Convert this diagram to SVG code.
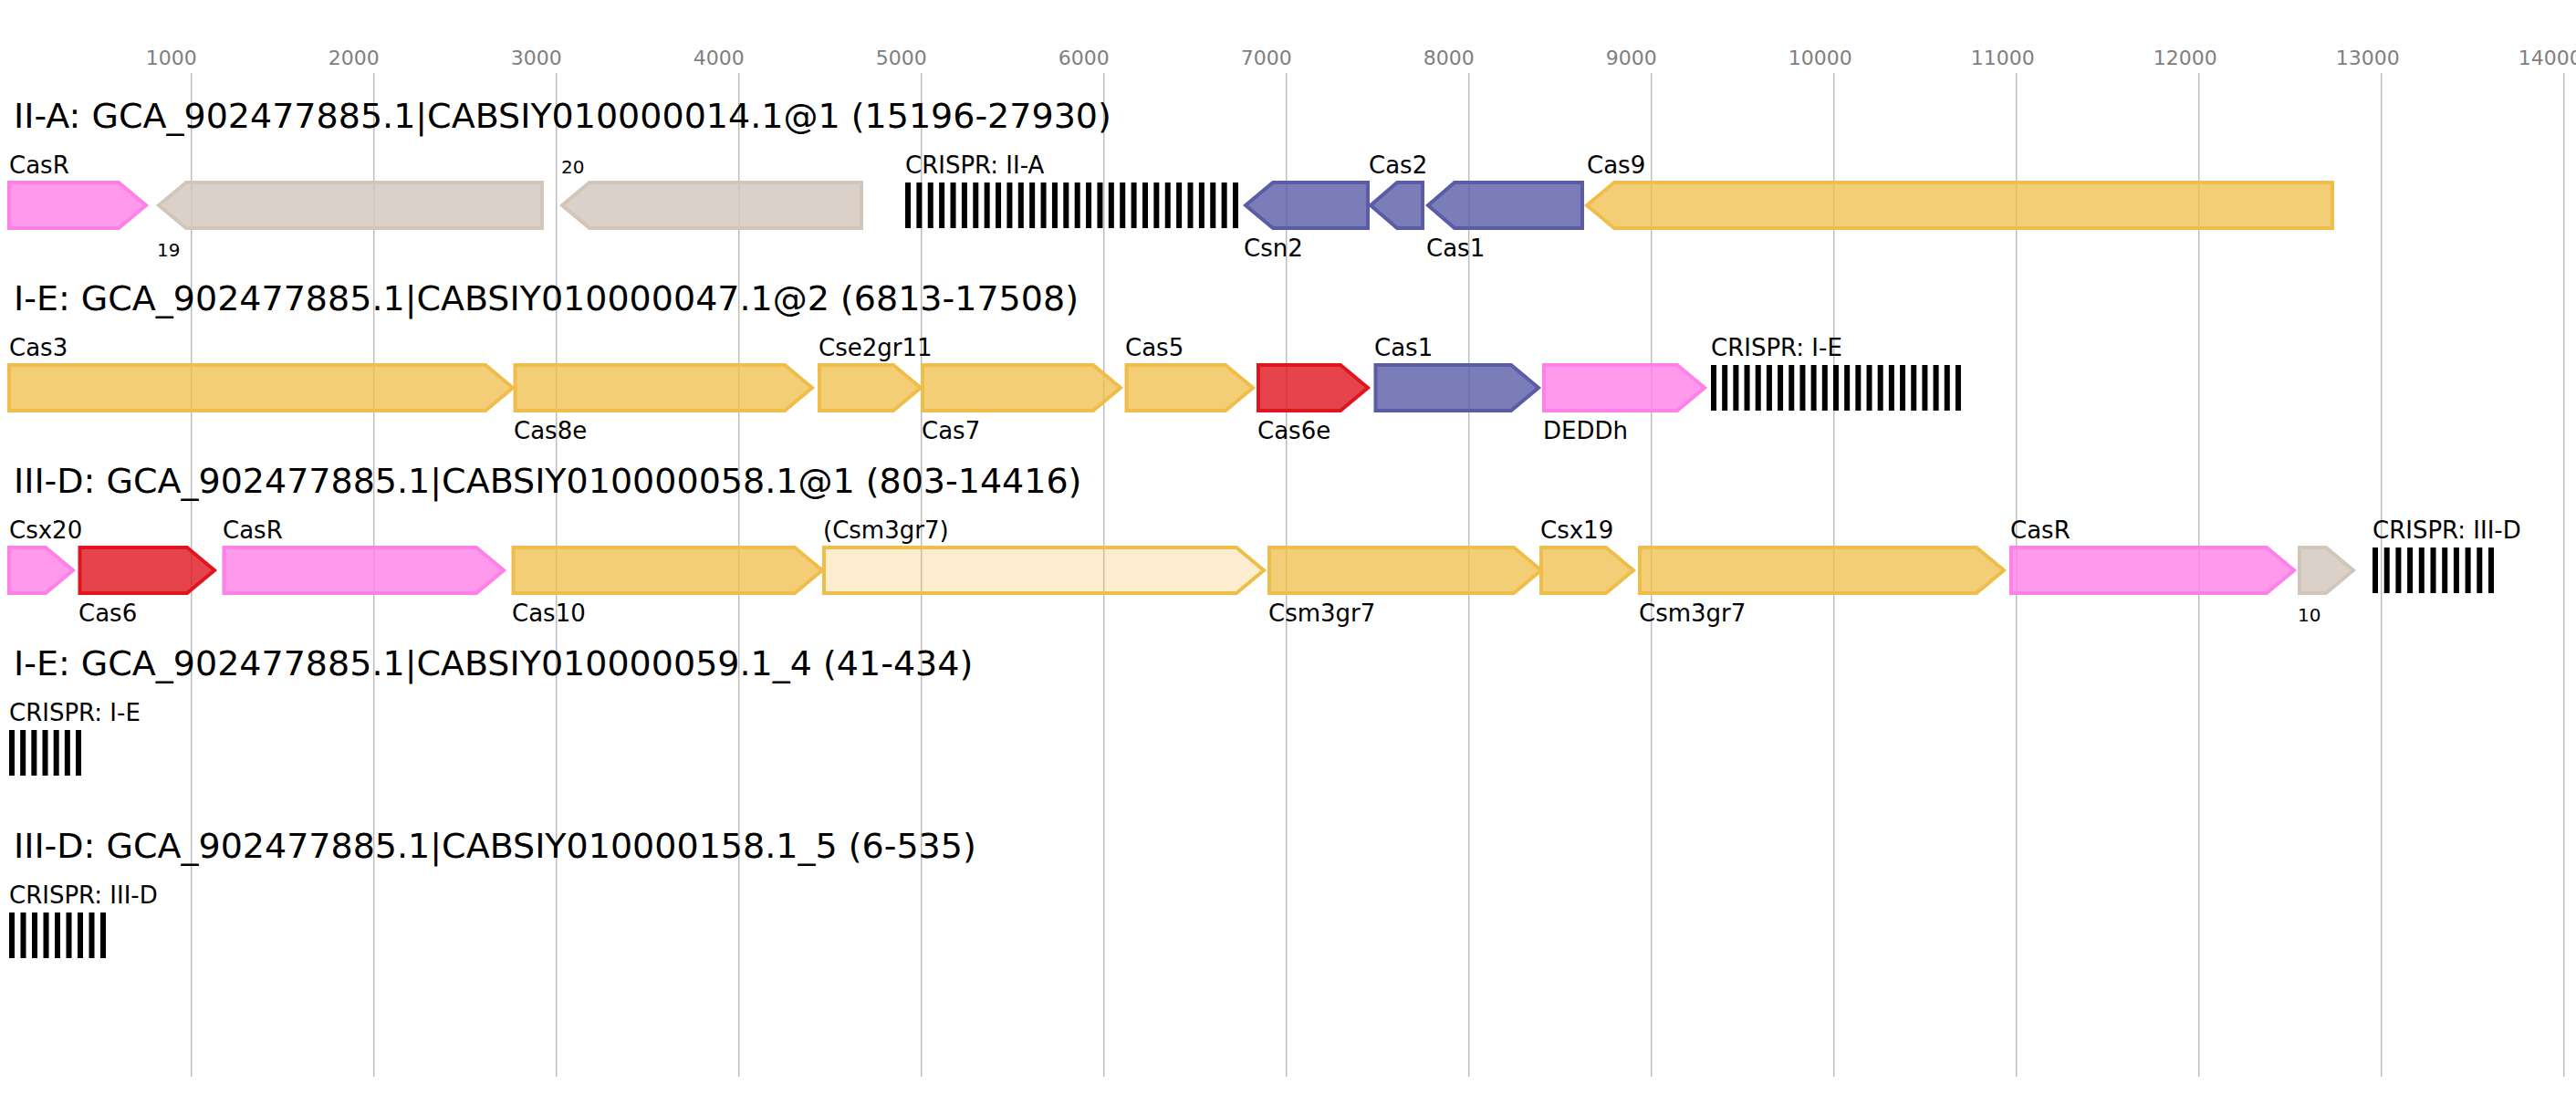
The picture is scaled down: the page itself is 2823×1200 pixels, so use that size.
<svg xmlns="http://www.w3.org/2000/svg" width="2823" height="1200" viewBox="0 0 2823 1200">
<style>
text{font-family:"DejaVu Sans","Liberation Sans",sans-serif;fill:#000}
.tick text{font-size:22px;fill:#808080}
.title{font-size:38px}
.lbl{font-size:26px}
.sm{font-size:20px}
.grid{stroke:#bdbdbd;stroke-width:1.5}
.g{stroke-width:4;stroke-linejoin:miter}
.gold{fill:#EFBE4A;fill-opacity:.75;stroke:#EFBE4A}
.lgold{fill:#EFBE4A;fill-opacity:.28;stroke:#EFBE4A}
.blue{fill:#5A5DA6;fill-opacity:.8;stroke:#5A5DA6}
.red{fill:#E0151F;fill-opacity:.8;stroke:#E0151F}
.pink{fill:#FF80E6;fill-opacity:.8;stroke:#FF80E6}
.gray{fill:#D2C6BB;fill-opacity:.8;stroke:#D2C6BB}
.cr{stroke:#000;stroke-width:50}
</style>
<rect width="2823" height="1200" fill="#fff"/>
<g id="axis">
<g class="grid">
<line x1="209.7" y1="80" x2="209.7" y2="1180"/><line x1="409.7" y1="80" x2="409.7" y2="1180"/><line x1="609.7" y1="80" x2="609.7" y2="1180"/><line x1="809.7" y1="80" x2="809.7" y2="1180"/><line x1="1009.7" y1="80" x2="1009.7" y2="1180"/><line x1="1209.7" y1="80" x2="1209.7" y2="1180"/><line x1="1409.7" y1="80" x2="1409.7" y2="1180"/><line x1="1609.7" y1="80" x2="1609.7" y2="1180"/><line x1="1809.7" y1="80" x2="1809.7" y2="1180"/><line x1="2009.7" y1="80" x2="2009.7" y2="1180"/><line x1="2209.7" y1="80" x2="2209.7" y2="1180"/><line x1="2409.7" y1="80" x2="2409.7" y2="1180"/><line x1="2609.7" y1="80" x2="2609.7" y2="1180"/><line x1="2809.7" y1="80" x2="2809.7" y2="1180"/>
</g>
<g class="tick">
<text x="159.7" y="71">1000</text><text x="359.7" y="71">2000</text><text x="559.7" y="71">3000</text><text x="759.7" y="71">4000</text><text x="959.7" y="71">5000</text><text x="1159.7" y="71">6000</text><text x="1359.7" y="71">7000</text><text x="1559.7" y="71">8000</text><text x="1759.7" y="71">9000</text><text x="1959.7" y="71">10000</text><text x="2159.7" y="71">11000</text><text x="2359.7" y="71">12000</text><text x="2559.7" y="71">13000</text><text x="2759.7" y="71">14000</text>
</g>
</g>

<g id="row1">
<text class="title" x="15" y="140">II-A: GCA_902477885.1|CABSIY010000014.1@1 (15196-27930)</text>
<g id="r1-casr"><path class="g pink" d="M10,200H130L160,225L130,250H10Z"/><text class="lbl" x="10" y="190">CasR</text></g>
<g id="r1-19"><path class="g gray" d="M174,225L204,200H594V250H204Z"/><text class="sm" x="172" y="281">19</text></g>
<g id="r1-20"><path class="g gray" d="M616,225L646,200H944V250H646Z"/><text class="sm" x="615" y="190">20</text></g>
<g id="r1-crispr"><line class="cr" x1="992" y1="225" x2="1357" y2="225" stroke-dasharray="6 6.38"/><text class="lbl" x="992" y="190">CRISPR: II-A</text></g>
<g id="r1-csn2"><path class="g blue" d="M1365,225L1395,200H1499V250H1395Z"/><text class="lbl" x="1363" y="281">Csn2</text></g>
<g id="r1-cas2"><path class="g blue" d="M1502,225L1531,200H1559V250H1531Z"/><text class="lbl" x="1500" y="190">Cas2</text></g>
<g id="r1-cas1"><path class="g blue" d="M1565,225L1594,200H1734V250H1594Z"/><text class="lbl" x="1563" y="281">Cas1</text></g>
<g id="r1-cas9"><path class="g gold" d="M1739,225L1769,200H2556V250H1769Z"/><text class="lbl" x="1739" y="190">Cas9</text></g>
</g>

<g id="row2">
<text class="title" x="15" y="340">I-E: GCA_902477885.1|CABSIY010000047.1@2 (6813-17508)</text>
<g id="r2-cas3"><path class="g gold" d="M10,400H532L562,425L532,450H10Z"/><text class="lbl" x="10" y="390">Cas3</text></g>
<g id="r2-cas8e"><path class="g gold" d="M564.5,400H860L890,425L860,450H564.5Z"/><text class="lbl" x="563" y="481">Cas8e</text></g>
<g id="r2-cse2"><path class="g gold" d="M898,400H979L1009,425L979,450H898Z"/><text class="lbl" x="897" y="390">Cse2gr11</text></g>
<g id="r2-cas7"><path class="g gold" d="M1011,400H1198L1228,425L1198,450H1011Z"/><text class="lbl" x="1010" y="481">Cas7</text></g>
<g id="r2-cas5"><path class="g gold" d="M1234.5,400H1343L1373,425L1343,450H1234.5Z"/><text class="lbl" x="1233" y="390">Cas5</text></g>
<g id="r2-cas6e"><path class="g red" d="M1379,400H1469L1499,425L1469,450H1379Z"/><text class="lbl" x="1378" y="481">Cas6e</text></g>
<g id="r2-cas1"><path class="g blue" d="M1507.5,400H1656L1686,425L1656,450H1507.5Z"/><text class="lbl" x="1506" y="390">Cas1</text></g>
<g id="r2-deddh"><path class="g pink" d="M1692,400H1838L1868,425L1838,450H1692Z"/><text class="lbl" x="1691" y="481">DEDDh</text></g>
<g id="r2-crispr"><line class="cr" x1="1875" y1="425" x2="2149" y2="425" stroke-dasharray="6 6.18"/><text class="lbl" x="1875" y="390">CRISPR: I-E</text></g>
</g>

<g id="row3">
<text class="title" x="15" y="540">III-D: GCA_902477885.1|CABSIY010000058.1@1 (803-14416)</text>
<g id="r3-csx20"><path class="g pink" d="M10,600H50L80,625L50,650H10Z"/><text class="lbl" x="10" y="590">Csx20</text></g>
<g id="r3-cas6"><path class="g red" d="M87.5,600H205L235,625L205,650H87.5Z"/><text class="lbl" x="86" y="681">Cas6</text></g>
<g id="r3-casr"><path class="g pink" d="M245.5,600H522L552,625L522,650H245.5Z"/><text class="lbl" x="244" y="590">CasR</text></g>
<g id="r3-cas10"><path class="g gold" d="M562.5,600H871L901,625L871,650H562.5Z"/><text class="lbl" x="561" y="681">Cas10</text></g>
<g id="r3-csm3a"><path class="g lgold" d="M903,600H1355L1385,625L1355,650H903Z"/><text class="lbl" x="902" y="590">(Csm3gr7)</text></g>
<g id="r3-csm3b"><path class="g gold" d="M1391,600H1659L1689,625L1659,650H1391Z"/><text class="lbl" x="1390" y="681">Csm3gr7</text></g>
<g id="r3-csx19"><path class="g gold" d="M1689,600H1760L1790,625L1760,650H1689Z"/><text class="lbl" x="1688" y="590">Csx19</text></g>
<g id="r3-csm3c"><path class="g gold" d="M1797,600H2166L2196,625L2166,650H1797Z"/><text class="lbl" x="1796" y="681">Csm3gr7</text></g>
<g id="r3-casr2"><path class="g pink" d="M2204,600H2484L2514,625L2484,650H2204Z"/><text class="lbl" x="2203" y="590">CasR</text></g>
<g id="r3-10"><path class="g gray" d="M2520,600H2549L2579,625L2549,650H2520Z"/><text class="sm" x="2518" y="681">10</text></g>
<g id="r3-crispr"><line class="cr" x1="2600" y1="625" x2="2733" y2="625" stroke-dasharray="6 6.7"/><text class="lbl" x="2600" y="590">CRISPR: III-D</text></g>
</g>

<g id="row4">
<text class="title" x="15" y="740">I-E: GCA_902477885.1|CABSIY010000059.1_4 (41-434)</text>
<g id="r4-crispr"><line class="cr" x1="10" y1="825" x2="89" y2="825" stroke-dasharray="6 6.17"/><text class="lbl" x="10" y="790">CRISPR: I-E</text></g>
</g>

<g id="row5">
<text class="title" x="15" y="940">III-D: GCA_902477885.1|CABSIY010000158.1_5 (6-535)</text>
<g id="r5-crispr"><line class="cr" x1="10" y1="1025" x2="116" y2="1025" stroke-dasharray="6 6.5"/><text class="lbl" x="10" y="990">CRISPR: III-D</text></g>
</g>
</svg>
